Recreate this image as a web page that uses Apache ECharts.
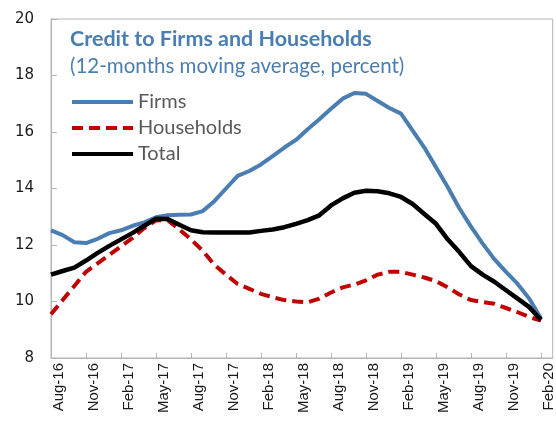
<!DOCTYPE html>
<html>
<head>
<meta charset="utf-8">
<script src="https://cdn.jsdelivr.net/npm/echarts@6/dist/echarts.min.js"></script>
<style>
  html, body { margin: 0; padding: 0; background: #fff; }
  #chart { width: 556px; height: 432px; }
</style>
</head>
<body>
<div id="chart"></div>
<script>
// monthly categories, Aug-16 .. Mar-20 (last month has no data)
const months = [
  'Aug-16', 'Sep-16', 'Oct-16', 'Nov-16', 'Dec-16', 'Jan-17', 'Feb-17', 'Mar-17', 'Apr-17',
  'May-17', 'Jun-17', 'Jul-17', 'Aug-17', 'Sep-17', 'Oct-17', 'Nov-17', 'Dec-17', 'Jan-18',
  'Feb-18', 'Mar-18', 'Apr-18', 'May-18', 'Jun-18', 'Jul-18', 'Aug-18', 'Sep-18', 'Oct-18',
  'Nov-18', 'Dec-18', 'Jan-19', 'Feb-19', 'Mar-19', 'Apr-19', 'May-19', 'Jun-19', 'Jul-19',
  'Aug-19', 'Sep-19', 'Oct-19', 'Nov-19', 'Dec-19', 'Jan-20', 'Feb-20', 'Mar-20'
];

const firms = [
  12.52, 12.35, 12.10, 12.07, 12.22, 12.42, 12.52, 12.68, 12.80, 12.98,
  13.05, 13.07, 13.08, 13.20, 13.55, 14.00, 14.45, 14.62, 14.85, 15.15,
  15.45, 15.72, 16.10, 16.45, 16.82, 17.18, 17.38, 17.35, 17.10, 16.85,
  16.65, 16.05, 15.45, 14.75, 14.05, 13.30, 12.65, 12.05, 11.50, 11.05,
  10.62, 10.10, 9.40
];

const households = [
  9.55, 10.05, 10.55, 11.05, 11.35, 11.65, 11.95, 12.25, 12.60, 12.87,
  12.88, 12.55, 12.20, 11.80, 11.30, 10.95, 10.62, 10.45, 10.27, 10.15,
  10.05, 10.00, 9.97, 10.10, 10.32, 10.50, 10.60, 10.75, 10.95, 11.05,
  11.05, 10.95, 10.85, 10.72, 10.50, 10.25, 10.05, 9.98, 9.92, 9.77,
  9.62, 9.45, 9.32
];

const total = [
  10.95, 11.08, 11.20, 11.45, 11.72, 11.97, 12.20, 12.43, 12.68, 12.93,
  12.92, 12.72, 12.52, 12.45, 12.44, 12.44, 12.44, 12.44, 12.50, 12.55,
  12.63, 12.75, 12.88, 13.05, 13.40, 13.65, 13.85, 13.92, 13.90, 13.83,
  13.70, 13.45, 13.10, 12.75, 12.20, 11.75, 11.25, 10.95, 10.70, 10.40,
  10.10, 9.80, 9.35
];

const titleColor = '#4a7eb2';
const axisColor = '#b4b4b4';

// legend icons: plain bar for solid lines, four dashes for households
const solidIcon = 'path://M0,0h61v4h-61z';
const dashIcon = 'path://M0,0h11v4h-11z M17,0h11v4h-11z M34,0h11v4h-11z M51,0h10v4h-10z';

const chart = echarts.init(document.getElementById('chart'));

const option = {
  backgroundColor: '#fff',
  animation: false,
  title: {
    text: 'Credit to Firms and Households',
    subtext: '(12-months moving average, percent)',
    left: 70,
    top: 28,
    padding: 0,
    itemGap: 5,
    textStyle: {
      fontFamily: 'Lato',
      fontWeight: 'bold',
      fontSize: 21.5,
      lineHeight: 22,
      color: titleColor
    },
    subtextStyle: {
      fontFamily: 'Lato',
      fontSize: 20.5,
      lineHeight: 22,
      color: titleColor
    }
  },
  legend: {
    orient: 'vertical',
    left: 72,
    top: 92,
    itemWidth: 61,
    itemHeight: 4,
    itemGap: 6,
    padding: 0,
    itemStyle: { borderWidth: 0 },
    data: [
      { name: 'Firms', icon: solidIcon },
      { name: 'Households', icon: dashIcon },
      { name: 'Total', icon: solidIcon }
    ],
    textStyle: {
      fontFamily: 'Lato',
      fontSize: 20,
      lineHeight: 20,
      color: '#595959'
    }
  },
  grid: {
    left: 51,
    top: 19,
    right: 3,
    bottom: 74,
    show: true,
    borderColor: axisColor,
    borderWidth: 1
  },
  xAxis: {
    type: 'category',
    data: months,
    boundaryGap: false,
    axisLine: { lineStyle: { color: axisColor } },
    axisTick: { inside: true, length: 5, interval: 2, lineStyle: { color: axisColor } },
    axisLabel: {
      interval: 2,
      rotate: 90,
      margin: 5,
      verticalAlign: 'top',
      fontFamily: 'Liberation Sans',
      fontSize: 15,
      color: '#1a1a1a'
    },
    splitLine: { show: false }
  },
  yAxis: {
    type: 'value',
    min: 8,
    max: 20,
    interval: 2,
    axisLine: { show: true, lineStyle: { color: axisColor } },
    axisTick: { show: true, inside: true, length: 6, lineStyle: { color: axisColor } },
    axisLabel: {
      margin: 17,
      fontFamily: 'DejaVu Sans',
      fontSize: 15,
      color: '#1a1a1a'
    },
    splitLine: { show: false }
  },
  series: [
    {
      name: 'Firms',
      type: 'line',
      data: firms,
      symbol: 'none',
      lineStyle: { color: '#4a7eb2', width: 4, join: 'round' },
      itemStyle: { color: '#4a7eb2' }
    },
    {
      name: 'Households',
      type: 'line',
      data: households,
      symbol: 'none',
      lineStyle: { color: '#c00000', width: 4, type: [11, 6], join: 'round' },
      itemStyle: { color: '#c00000' }
    },
    {
      name: 'Total',
      type: 'line',
      data: total,
      symbol: 'none',
      lineStyle: { color: '#000', width: 4.5, join: 'round' },
      itemStyle: { color: '#000' }
    }
  ]
};

chart.setOption(option);
</script>
</body>
</html>
